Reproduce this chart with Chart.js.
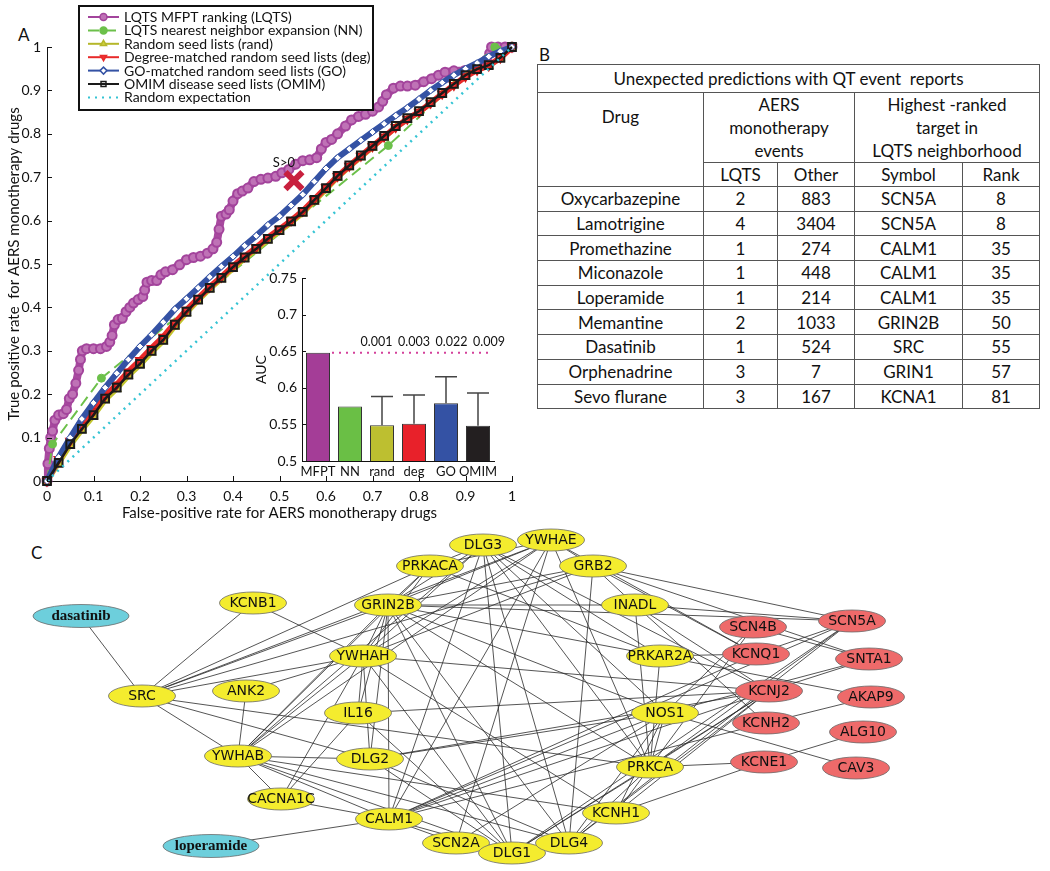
<!DOCTYPE html>
<html>
<head>
<meta charset="utf-8">
<script src="https://cdn.jsdelivr.net/npm/chart.js@4.4.1/dist/chart.umd.min.js"></script>
<style>
  body { margin: 0; background: #fff; }
  #page { position: relative; width: 1050px; height: 871px; overflow: hidden; font-family: Lato, sans-serif; color: #111; }
  .panel-label { position: absolute; font-size: 17px; }
  .holder { position: absolute; }
  #tbl { position: absolute; left: 537px; top: 64px; width: 502px; border-collapse: collapse; table-layout: fixed; font-size: 17px; }
  #tbl td { border: 1.5px solid #555; padding: 0; text-align: center; vertical-align: middle; }
  #tbl tr.data td { height: 23.7px; }
</style>
</head>
<body>
<div id="page">
  <div class="panel-label" style="left:18px;top:24px">A</div>
  <div class="panel-label" style="left:539px;top:44px">B</div>
  <div class="panel-label" style="left:31px;top:542px">C</div>

  <div class="holder" style="left:0;top:0;width:530px;height:526px"><canvas id="roc"></canvas></div>
  <div class="holder" style="left:240px;top:258px;width:270px;height:240px"><canvas id="auc"></canvas></div>

  <table id="tbl">
    <colgroup><col style="width:166px"><col style="width:74px"><col style="width:77px"><col style="width:108px"><col style="width:77px"></colgroup>
    <tr><td colspan="5" style="height:26.5px">Unexpected predictions with QT event&nbsp; reports</td></tr>
    <tr>
      <td rowspan="2" style="vertical-align:top;padding-top:13px">Drug</td>
      <td colspan="2" style="height:69px;line-height:23px">AERS<br>monotherapy<br>events</td>
      <td colspan="2" style="line-height:23px">Highest -ranked<br>target in<br>LQTS neighborhood</td>
    </tr>
    <tr><td style="height:23.5px">LQTS</td><td>Other</td><td>Symbol</td><td>Rank</td></tr>
  </table>

  <div class="holder" style="left:0;top:520px;width:1050px;height:351px"><canvas id="net"></canvas></div>
</div>

<script>
// ---------- Panel A: ROC curves ----------
const seriesNames = [
  'LQTS MFPT ranking (LQTS)',
  'LQTS nearest neighbor expansion (NN)',
  'Random seed lists (rand)',
  'Degree-matched random seed lists (deg)',
  'GO-matched random seed lists (GO)',
  'OMIM disease seed lists (OMIM)',
  'Random expectation'
];

const fprLQTS = [0, 0.002, 0.005, 0.008, 0.012, 0.017, 0.025, 0.035, 0.042, 0.048, 0.055, 0.062, 0.068, 0.072, 0.076,
  0.085, 0.1, 0.115, 0.128, 0.135, 0.14, 0.145, 0.153, 0.162, 0.17, 0.178, 0.186, 0.196, 0.206, 0.21, 0.215, 0.225,
  0.236, 0.245, 0.255, 0.27, 0.285, 0.3, 0.315, 0.33, 0.345, 0.357, 0.365, 0.37, 0.375, 0.385, 0.392, 0.4, 0.41, 0.42,
  0.432, 0.445, 0.46, 0.475, 0.492, 0.505, 0.52, 0.535, 0.55, 0.565, 0.58, 0.59, 0.6, 0.612, 0.625, 0.642, 0.655, 0.67,
  0.685, 0.7, 0.713, 0.722, 0.73, 0.745, 0.76, 0.775, 0.792, 0.81, 0.827, 0.842, 0.856, 0.875, 0.899, 0.915, 0.93,
  0.945, 0.952, 0.956, 0.97, 0.985, 1];
const tprLQTS = [0, 0.04, 0.075, 0.1, 0.115, 0.14, 0.152, 0.155, 0.165, 0.19, 0.2, 0.225, 0.255, 0.28, 0.3,
  0.305, 0.305, 0.305, 0.31, 0.32, 0.335, 0.36, 0.372, 0.375, 0.39, 0.4, 0.41, 0.418, 0.425, 0.44, 0.458, 0.462,
  0.462, 0.475, 0.482, 0.487, 0.498, 0.51, 0.515, 0.518, 0.525, 0.535, 0.55, 0.58, 0.61, 0.615, 0.625, 0.645, 0.662, 0.668,
  0.675, 0.69, 0.695, 0.698, 0.702, 0.71, 0.718, 0.73, 0.738, 0.74, 0.745, 0.765, 0.78, 0.787, 0.8, 0.818, 0.832, 0.84,
  0.845, 0.852, 0.862, 0.875, 0.89, 0.905, 0.91, 0.91, 0.912, 0.92, 0.927, 0.935, 0.942, 0.945, 0.946, 0.95, 0.958,
  0.97, 0.985, 1, 1, 1, 1];

const fprNN = [0, 0.012, 0.117, 0.734, 0.963, 1];
const tprNN = [0, 0.085, 0.237, 0.773, 1, 1];

// shared false-positive grid read for the seed-list curves
const fprSeed = [0, 0.025, 0.05, 0.075, 0.1, 0.125, 0.15, 0.175, 0.2, 0.225, 0.25, 0.275, 0.3, 0.325, 0.35, 0.375, 0.4,
  0.425, 0.45, 0.475, 0.5, 0.525, 0.55, 0.575, 0.6, 0.625, 0.65, 0.675, 0.7, 0.725, 0.75, 0.775, 0.8, 0.825, 0.85, 0.875,
  0.9, 0.925, 0.95, 0.975, 1];
const tprRand = [0, 0.04, 0.082, 0.117, 0.149, 0.186, 0.212, 0.242, 0.267, 0.296, 0.322, 0.356, 0.387, 0.415, 0.442, 0.465,
  0.489, 0.512, 0.532, 0.555, 0.575, 0.595, 0.617, 0.644, 0.671, 0.699, 0.723, 0.746, 0.768, 0.791, 0.814, 0.833, 0.849, 0.87,
  0.891, 0.912, 0.932, 0.947, 0.956, 0.974, 1];
const tprDeg = [0, 0.05, 0.092, 0.128, 0.16, 0.196, 0.222, 0.252, 0.278, 0.306, 0.332, 0.364, 0.394, 0.421, 0.447, 0.47,
  0.495, 0.517, 0.538, 0.561, 0.58, 0.6, 0.622, 0.649, 0.676, 0.702, 0.726, 0.749, 0.771, 0.793, 0.815, 0.834, 0.85,
  0.871, 0.892, 0.912, 0.932, 0.947, 0.957, 0.975, 1];
const tprGO = [0, 0.055, 0.1, 0.143, 0.18, 0.215, 0.248, 0.28, 0.31, 0.337, 0.366, 0.396, 0.42, 0.445, 0.47, 0.494,
  0.517, 0.542, 0.565, 0.59, 0.61, 0.635, 0.66, 0.69, 0.72, 0.745, 0.765, 0.785, 0.804, 0.823, 0.842, 0.86, 0.88, 0.9,
  0.918, 0.935, 0.95, 0.963, 0.978, 0.99, 1];
const tprOMIM = [0, 0.042, 0.085, 0.12, 0.152, 0.19, 0.215, 0.245, 0.27, 0.3, 0.325, 0.36, 0.39, 0.418, 0.445, 0.468,
  0.493, 0.515, 0.535, 0.558, 0.578, 0.598, 0.62, 0.648, 0.675, 0.703, 0.727, 0.75, 0.772, 0.795, 0.818, 0.836, 0.852,
  0.873, 0.894, 0.915, 0.935, 0.949, 0.958, 0.975, 1];

const fprExpected = [0, 1];
const tprExpected = [0, 1];

const markFpr = [0.531];
const markTpr = [0.692];
const markLabel = 'S>0';

// ---------- inset: AUC bars ----------
const aucLabels = ['MFPT', 'NN', 'rand', 'deg', 'GO', 'OMIM'];
const aucValues = [0.648, 0.5745, 0.549, 0.551, 0.579, 0.548];
const aucUpper = [null, null, 0.588, 0.590, 0.615, 0.593];
const aucPValues = [null, null, '0.001', '0.003', '0.022', '0.009'];
const aucColors = ['#a43d97', '#6abf45', '#bdbf30', '#e8212a', '#3452a4', '#231f20'];

// ---------- Panel B: table ----------
const drugNames = ['Oxycarbazepine', 'Lamotrigine', 'Promethazine', 'Miconazole', 'Loperamide', 'Memantine', 'Dasatinib', 'Orphenadrine', 'Sevo flurane'];
const lqtsEvents = [2, 4, 1, 1, 1, 2, 1, 3, 3];
const otherEvents = [883, 3404, 274, 448, 214, 1033, 524, 7, 167];
const targetSymbols = ['SCN5A', 'SCN5A', 'CALM1', 'CALM1', 'CALM1', 'GRIN2B', 'SRC', 'GRIN1', 'KCNA1'];
const targetRanks = [8, 8, 35, 35, 35, 50, 55, 57, 81];

// ---------- Panel C: network ----------
const nodeNames = ['dasatinib', 'KCNB1', 'GRIN2B', 'PRKACA', 'DLG3', 'YWHAE', 'GRB2', 'INADL', 'YWHAH', 'SRC', 'ANK2',
  'IL16', 'YWHAB', 'DLG2', 'CACNA1C', 'CALM1', 'loperamide', 'SCN2A', 'DLG1', 'DLG4', 'KCNH1', 'PRKCA', 'NOS1',
  'PRKAR2A', 'SCN4B', 'KCNQ1', 'KCNJ2', 'KCNH2', 'KCNE1', 'SCN5A', 'SNTA1', 'AKAP9', 'ALG10', 'CAV3'];
const nodeX = [81, 253, 388, 430, 483, 551, 593, 635, 363, 142, 246, 358, 238, 370, 281, 389, 211, 456, 512, 569, 616,
  650, 665, 660, 753, 756, 769, 766, 764, 852, 869, 871, 863, 856];
const nodeY = [616, 603, 605, 566, 545, 540, 566, 605, 656, 696, 691, 713, 756, 759, 799, 819, 846, 843, 853, 843, 813,
  767, 713, 656, 627, 654, 691, 723, 762, 621, 659, 697, 732, 768];
const nodeKind = ['drug', 'nb', 'nb', 'nb', 'nb', 'nb', 'nb', 'nb', 'nb', 'nb', 'nb', 'nb', 'nb', 'nb', 'nb', 'nb',
  'drug', 'nb', 'nb', 'nb', 'nb', 'nb', 'nb', 'nb', 'lqts', 'lqts', 'lqts', 'lqts', 'lqts', 'lqts', 'lqts', 'lqts', 'lqts', 'lqts'];
const edges = [
  ['dasatinib', 'SRC'], ['loperamide', 'CALM1'],
  ['SRC', 'KCNB1'], ['SRC', 'GRIN2B'], ['SRC', 'PRKACA'], ['SRC', 'YWHAE'], ['SRC', 'GRB2'], ['SRC', 'YWHAH'],
  ['SRC', 'YWHAB'], ['SRC', 'DLG2'], ['SRC', 'PRKCA'],
  ['KCNB1', 'YWHAH'], ['ANK2', 'YWHAH'], ['ANK2', 'YWHAB'],
  ['YWHAB', 'YWHAH'], ['YWHAB', 'GRIN2B'], ['YWHAB', 'DLG3'], ['YWHAB', 'YWHAE'], ['YWHAB', 'PRKACA'], ['YWHAB', 'DLG2'],
  ['YWHAB', 'CACNA1C'], ['YWHAB', 'DLG1'], ['YWHAB', 'DLG4'], ['YWHAB', 'KCNH1'], ['YWHAB', 'CALM1'],
  ['CACNA1C', 'IL16'], ['CACNA1C', 'YWHAH'], ['CACNA1C', 'CALM1'],
  ['YWHAH', 'GRIN2B'], ['YWHAH', 'PRKACA'], ['YWHAH', 'DLG3'], ['YWHAH', 'YWHAE'], ['YWHAH', 'IL16'], ['YWHAH', 'DLG2'],
  ['YWHAH', 'KCNJ2'], ['YWHAH', 'DLG1'], ['YWHAH', 'KCNH1'], ['YWHAH', 'GRB2'],
  ['GRIN2B', 'PRKACA'], ['GRIN2B', 'DLG3'], ['GRIN2B', 'YWHAE'], ['GRIN2B', 'GRB2'], ['GRIN2B', 'INADL'], ['GRIN2B', 'PRKAR2A'],
  ['GRIN2B', 'NOS1'], ['GRIN2B', 'PRKCA'], ['GRIN2B', 'CALM1'], ['GRIN2B', 'DLG4'], ['GRIN2B', 'DLG1'], ['GRIN2B', 'IL16'],
  ['GRIN2B', 'DLG2'], ['GRIN2B', 'SCN5A'],
  ['PRKACA', 'DLG3'], ['PRKACA', 'PRKAR2A'], ['PRKACA', 'YWHAE'],
  ['DLG3', 'CALM1'], ['DLG3', 'DLG1'], ['DLG3', 'NOS1'], ['DLG3', 'PRKAR2A'], ['DLG3', 'DLG4'], ['DLG3', 'PRKCA'], ['DLG3', 'KCNJ2'],
  ['YWHAE', 'GRB2'], ['YWHAE', 'CALM1'], ['YWHAE', 'KCNQ1'], ['YWHAE', 'PRKCA'], ['YWHAE', 'SCN2A'],
  ['GRB2', 'DLG4'], ['GRB2', 'SCN5A'], ['GRB2', 'INADL'], ['GRB2', 'KCNQ1'], ['GRB2', 'SNTA1'],
  ['INADL', 'SCN5A'], ['INADL', 'PRKCA'], ['INADL', 'KCNJ2'], ['INADL', 'KCNH2'],
  ['PRKAR2A', 'KCNQ1'], ['PRKAR2A', 'AKAP9'], ['PRKAR2A', 'PRKCA'],
  ['SCN4B', 'SNTA1'], ['SCN4B', 'PRKCA'], ['SCN4B', 'NOS1'],
  ['KCNQ1', 'SCN5A'], ['KCNQ1', 'CALM1'],
  ['KCNJ2', 'SNTA1'], ['NOS1', 'SNTA1'], ['KCNJ2', 'DLG1'], ['KCNJ2', 'DLG4'], ['KCNJ2', 'DLG2'], ['KCNJ2', 'IL16'],
  ['KCNJ2', 'CALM1'], ['KCNJ2', 'KCNH1'], ['KCNJ2', 'PRKCA'],
  ['SCN5A', 'DLG4'], ['SCN5A', 'PRKCA'], ['SCN5A', 'DLG1'], ['SCN5A', 'CALM1'],
  ['KCNH2', 'AKAP9'], ['KCNH2', 'CALM1'],
  ['NOS1', 'CAV3'], ['NOS1', 'PRKCA'], ['NOS1', 'DLG4'], ['NOS1', 'SCN2A'], ['NOS1', 'DLG2'], ['NOS1', 'CALM1'], ['NOS1', 'KCNH1'],
  ['KCNE1', 'PRKCA'], ['KCNE1', 'KCNH1'], ['KCNE1', 'ALG10'],
  ['PRKCA', 'DLG4'], ['PRKCA', 'KCNH1'], ['PRKCA', 'DLG1'],
  ['DLG4', 'DLG1'], ['CALM1', 'SCN2A'], ['CALM1', 'DLG1'], ['DLG2', 'DLG4'], ['DLG2', 'DLG1'], ['IL16', 'DLG1']
];

// --- Setup ---
Chart.defaults.font.family = 'Lato, sans-serif';
Chart.defaults.color = '#111';
Chart.defaults.animation = false;

const pts = (xs, ys) => xs.map((x, i) => ({ x: x, y: ys[i] }));
const fmtTick = v => String(+v.toFixed(2));

// inward MATLAB-style ticks
const inwardTicks = {
  id: 'inwardTicks',
  afterDraw(chart, args, opts) {
    const { ctx, chartArea, scales } = chart;
    const len = opts.length || 5;
    ctx.save();
    ctx.strokeStyle = '#111';
    ctx.lineWidth = 1;
    ctx.beginPath();
    if (opts.x !== false) {
      scales.x.ticks.forEach(t => {
        const px = Math.round(scales.x.getPixelForValue(t.value)) + 0.5;
        ctx.moveTo(px, chartArea.bottom);
        ctx.lineTo(px, chartArea.bottom - len);
      });
    }
    scales.y.ticks.forEach(t => {
      const py = Math.round(scales.y.getPixelForValue(t.value)) + 0.5;
      ctx.moveTo(chartArea.left, py);
      ctx.lineTo(chartArea.left + len, py);
    });
    ctx.stroke();
    ctx.restore();
  }
};

// boxed legend in the upper left, like the original
const boxLegend = {
  id: 'boxLegend',
  afterDraw(chart) {
    const ctx = chart.ctx;
    ctx.save();
    ctx.fillStyle = '#fff';
    ctx.strokeStyle = '#111';
    ctx.lineWidth = 2;
    ctx.fillRect(79, 6, 294, 104);
    ctx.strokeRect(79, 6, 294, 104);
    ctx.font = '14px Lato, sans-serif';
    ctx.textBaseline = 'middle';
    seriesNames.forEach((name, i) => {
      const ds = chart.data.datasets[i];
      const y = 17 + i * 13.4;
      ctx.strokeStyle = ds.legendColor || ds.borderColor;
      ctx.lineWidth = 2;
      ctx.setLineDash(ds.borderDash || []);
      ctx.beginPath();
      ctx.moveTo(88, y);
      ctx.lineTo(119, y);
      ctx.stroke();
      ctx.setLineDash([]);
      if (ds.pointRadius > 0) {
        ctx.fillStyle = ds.pointBackgroundColor;
        ctx.strokeStyle = ds.legendColor || ds.pointBorderColor;
        ctx.lineWidth = 1.5;
        Chart.helpers.drawPoint(ctx, {
          pointStyle: ds.pointStyle || 'circle', radius: 3.5,
          rotation: ds.pointRotation || 0, borderWidth: 1.5
        }, 103.5, y);
      }
      ctx.fillStyle = '#111';
      ctx.fillText(name, 124, y + 0.5);
    });
    ctx.restore();
  }
};

// label next to the red cross
const markText = {
  id: 'markText',
  afterDatasetsDraw(chart) {
    const { ctx, scales } = chart;
    const x = scales.x.getPixelForValue(markFpr[0]);
    const y = scales.y.getPixelForValue(markTpr[0]);
    ctx.save();
    ctx.font = '13px Lato, sans-serif';
    ctx.fillStyle = '#111';
    ctx.textAlign = 'center';
    ctx.textBaseline = 'middle';
    ctx.fillText(markLabel, x - 10, y - 18);
    ctx.restore();
  }
};

new Chart(document.getElementById('roc'), {
  type: 'scatter',
  data: {
    datasets: [
      { data: pts(fprLQTS, tprLQTS), showLine: true, order: 7, borderColor: '#a84a9f', borderWidth: 8, legendColor: '#a3449c',
        pointStyle: 'circle', pointRadius: 4.5, pointBorderWidth: 2, pointBackgroundColor: '#bf72b6', pointBorderColor: '#a3449c' },
      { data: pts(fprNN, tprNN), showLine: true, order: 6, borderColor: '#6cc04a', borderWidth: 2, borderDash: [11, 6],
        pointStyle: 'circle', pointRadius: 4, pointBorderWidth: 1, pointBackgroundColor: '#6cc04a', pointBorderColor: '#6cc04a' },
      { data: pts(fprSeed, tprRand), showLine: true, order: 5, borderColor: '#c2c42e', borderWidth: 5, legendColor: '#b5b72a',
        pointStyle: 'triangle', pointRadius: 4.5, pointBorderWidth: 1.5, pointBackgroundColor: '#cfd03c', pointBorderColor: '#a9aa1c' },
      { data: pts(fprSeed, tprDeg), showLine: true, order: 4, borderColor: '#e82a2a', borderWidth: 6, legendColor: '#e82a2a',
        pointStyle: 'triangle', pointRotation: 180, pointRadius: 5, pointBorderWidth: 1.5, pointBackgroundColor: '#f03434', pointBorderColor: '#d01818' },
      { data: pts(fprSeed, tprGO), showLine: true, order: 3, borderColor: '#3452a4', borderWidth: 6, legendColor: '#3452a4',
        pointStyle: 'rectRot', pointRadius: 3.5, pointBorderWidth: 1, pointBackgroundColor: '#ffffff', pointBorderColor: '#3452a4' },
      { data: pts(fprSeed, tprOMIM), showLine: true, order: 2, borderColor: '#1a1a1a', borderWidth: 2.5,
        pointStyle: 'rect', pointRadius: 5.5, pointBorderWidth: 2, pointBackgroundColor: 'rgba(0,0,0,0)', pointBorderColor: '#1a1a1a' },
      { data: pts(fprExpected, tprExpected), showLine: true, order: 1, borderColor: '#35c4d4', borderWidth: 2.5,
        borderDash: [2, 5], pointRadius: 0 },
      { data: pts(markFpr, markTpr), showLine: false, order: 0, pointStyle: 'crossRot', pointRadius: 12,
        pointBorderWidth: 6, pointBorderColor: '#c8203e', pointBackgroundColor: '#c8203e' }
    ]
  },
  options: {
    responsive: true,
    maintainAspectRatio: false,
    clip: false,
    layout: { padding: { top: 47, right: 16 } },
    plugins: { legend: { display: false }, tooltip: { enabled: false }, inwardTicks: { length: 5 } },
    scales: {
      x: {
        type: 'linear', min: 0, max: 1,
        ticks: { stepSize: 0.1, padding: 7, font: { size: 14 }, callback: fmtTick, maxRotation: 0 },
        grid: { drawOnChartArea: false, drawTicks: false },
        border: { color: '#111', width: 1 },
        title: { display: true, text: 'False-positive rate for AERS monotherapy drugs', font: { size: 15 }, padding: { top: 0, bottom: 4 } },
        afterFit: s => { s.height = 45; }
      },
      y: {
        type: 'linear', min: 0, max: 1,
        ticks: { stepSize: 0.1, padding: 6, font: { size: 14 }, callback: fmtTick },
        grid: { drawOnChartArea: false, drawTicks: false },
        border: { color: '#111', width: 1 },
        title: { display: true, text: 'True positive rate  for AERS monotherapy drugs', font: { size: 15 }, padding: { top: 5, bottom: 0 } },
        afterFit: s => { s.width = 47; }
      }
    }
  },
  plugins: [inwardTicks, markText, boxLegend]
});

// --- AUC inset ---
const aucExtras = {
  id: 'aucExtras',
  afterDatasetsDraw(chart) {
    const { ctx, scales, chartArea } = chart;
    const meta = chart.getDatasetMeta(0);
    ctx.save();
    // error bars
    ctx.strokeStyle = '#444';
    ctx.lineWidth = 1.5;
    aucUpper.forEach((u, i) => {
      if (u == null) return;
      const bar = meta.data[i];
      const yTop = scales.y.getPixelForValue(u);
      ctx.beginPath();
      ctx.moveTo(bar.x, bar.y);
      ctx.lineTo(bar.x, yTop);
      ctx.moveTo(bar.x - 11, yTop);
      ctx.lineTo(bar.x + 11, yTop);
      ctx.stroke();
    });
    // reference line at the MFPT value
    const yRef = scales.y.getPixelForValue(aucValues[0]);
    const first = meta.data[0];
    ctx.strokeStyle = '#d4409a';
    ctx.lineWidth = 2;
    ctx.setLineDash([2, 5]);
    ctx.beginPath();
    ctx.moveTo(first.x + first.width / 2 + 2, yRef);
    ctx.lineTo(chartArea.right - 2, yRef);
    ctx.stroke();
    ctx.setLineDash([]);
    // p-values
    ctx.font = '12.5px Lato, sans-serif';
    ctx.fillStyle = '#111';
    ctx.textAlign = 'center';
    ctx.textBaseline = 'middle';
    aucPValues.forEach((p, i) => {
      if (!p) return;
      ctx.fillText(p, meta.data[i].x + (i - 3) * 5.5, yRef - 11);
    });
    ctx.restore();
  }
};

new Chart(document.getElementById('auc'), {
  type: 'bar',
  data: {
    labels: aucLabels,
    datasets: [{ data: aucValues, backgroundColor: aucColors, borderColor: '#333', borderWidth: 1,
      borderSkipped: false, barPercentage: 0.75, categoryPercentage: 1 }]
  },
  options: {
    responsive: true,
    maintainAspectRatio: false,
    layout: { padding: { top: 20, right: 16 } },
    plugins: { legend: { display: false }, tooltip: { enabled: false }, inwardTicks: { x: false, length: 4 } },
    scales: {
      x: {
        ticks: { padding: 3, font: { size: 13 }, autoSkip: false, maxRotation: 0 },
        grid: { drawOnChartArea: false, drawTicks: false },
        border: { color: '#111', width: 1 },
        afterFit: s => { s.height = 37; }
      },
      y: {
        min: 0.5, max: 0.75,
        ticks: { stepSize: 0.05, padding: 5, font: { size: 14 }, callback: fmtTick },
        grid: { drawOnChartArea: false, drawTicks: false },
        border: { color: '#111', width: 1 },
        title: { display: true, text: 'AUC', font: { size: 14 }, padding: { top: 13, bottom: 0 } },
        afterFit: s => { s.width = 62; }
      }
    }
  },
  plugins: [inwardTicks, aucExtras]
});

// --- Table rows ---
const tbl = document.getElementById('tbl');
drugNames.forEach((d, i) => {
  const tr = document.createElement('tr');
  tr.className = 'data';
  [d, lqtsEvents[i], otherEvents[i], targetSymbols[i], targetRanks[i]].forEach(v => {
    const td = document.createElement('td');
    td.textContent = v;
    tr.appendChild(td);
  });
  tbl.appendChild(tr);
});

// --- Network ---
const nodeIndex = {};
nodeNames.forEach((n, i) => { nodeIndex[n] = i; });
const nodePt = n => ({ x: nodeX[nodeIndex[n]], y: nodeY[nodeIndex[n]] });

const edgeSets = edges.map(([a, b]) => ({
  data: [nodePt(a), nodePt(b)], showLine: true, borderColor: '#2a2a2a', borderWidth: 0.8, pointRadius: 0
}));
const nodeSet = {
  data: pts(nodeX, nodeY), showLine: false, pointRadius: 0
};

const nodeFill = { drug: '#6dcfdc', nb: '#f4ec2e', lqts: '#ee6a6a' };

const drawNodes = {
  id: 'drawNodes',
  afterDatasetsDraw(chart) {
    const ctx = chart.ctx;
    const meta = chart.getDatasetMeta(chart.data.datasets.length - 1);
    ctx.save();
    ctx.textAlign = 'center';
    ctx.textBaseline = 'middle';
    meta.data.forEach((el, i) => {
      const kind = nodeKind[i];
      const rx = kind === 'drug' ? 48 : 33.5;
      const ry = kind === 'drug' ? 11.5 : 11;
      ctx.beginPath();
      ctx.ellipse(el.x, el.y, rx, ry, 0, 0, Math.PI * 2);
      ctx.fillStyle = nodeFill[kind];
      ctx.fill();
      ctx.strokeStyle = '#6b6b6b';
      ctx.lineWidth = 0.8;
      ctx.stroke();
      ctx.fillStyle = '#111';
      ctx.font = kind === 'drug' ? 'bold 15px "Liberation Serif", serif' : '14px "DejaVu Sans", sans-serif';
      ctx.fillText(nodeNames[i], el.x, el.y + 0.5);
    });
    ctx.restore();
  }
};

new Chart(document.getElementById('net'), {
  type: 'scatter',
  data: { datasets: edgeSets.concat([nodeSet]) },
  options: {
    responsive: true,
    maintainAspectRatio: false,
    clip: false,
    layout: { padding: 0 },
    plugins: { legend: { display: false }, tooltip: { enabled: false } },
    scales: {
      x: { type: 'linear', min: 0, max: 1050, display: false },
      y: { type: 'linear', min: 520, max: 871, reverse: true, display: false }
    }
  },
  plugins: [drawNodes]
});
</script>
</body>
</html>
